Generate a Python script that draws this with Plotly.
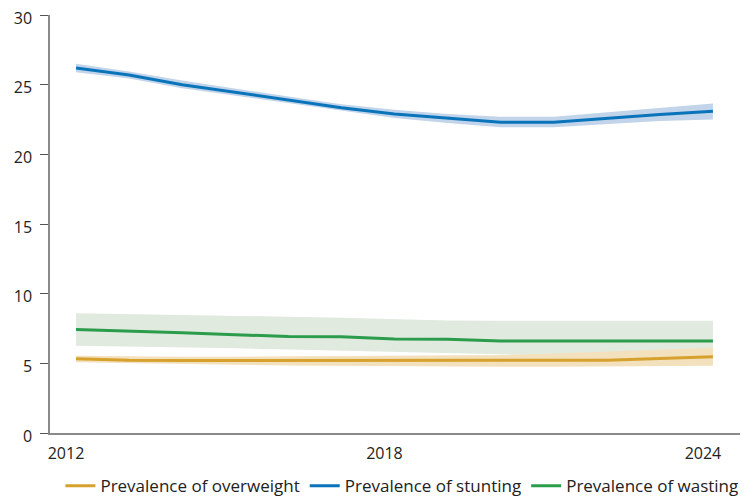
import plotly.graph_objects as go

years = list(range(2012, 2025))

stunting = [26.2, 25.7, 25.0, 24.45, 23.9, 23.35, 22.9, 22.6, 22.3, 22.3, 22.6, 22.85, 23.1]
stunting_lo = [25.9, 25.45, 24.75, 24.2, 23.65, 23.1, 22.6, 22.25, 21.95, 21.95, 22.2, 22.4, 22.5]
stunting_hi = [26.5, 25.95, 25.3, 24.7, 24.15, 23.6, 23.2, 22.9, 22.7, 22.7, 23.0, 23.3, 23.65]

wasting = [7.42, 7.32, 7.2, 7.06, 6.92, 6.9, 6.75, 6.72, 6.6, 6.6, 6.6, 6.6, 6.6]
wasting_lo = [6.27, 6.22, 6.15, 6.08, 6.0, 5.9, 5.8, 5.72, 5.65, 5.6, 5.6, 5.6, 5.6]
wasting_hi = [8.6, 8.55, 8.45, 8.4, 8.35, 8.28, 8.2, 8.08, 8.06, 8.06, 8.06, 8.06, 8.06]

overweight = [5.33, 5.22, 5.2, 5.2, 5.2, 5.2, 5.2, 5.19, 5.19, 5.19, 5.22, 5.35, 5.48]
overweight_lo = [5.07, 5.0, 4.95, 4.9, 4.85, 4.82, 4.78, 4.76, 4.76, 4.76, 4.78, 4.8, 4.83]
overweight_hi = [5.55, 5.5, 5.48, 5.48, 5.5, 5.5, 5.52, 5.55, 5.6, 5.7, 5.85, 6.0, 6.12]

y_ticks = [0, 5, 10, 15, 20, 25, 30]
x_ticks = [2012, 2018, 2024]

series = [
    ("Prevalence of overweight", overweight, overweight_lo, overweight_hi, "#d6a12c", "#f3e0bd"),
    ("Prevalence of stunting", stunting, stunting_lo, stunting_hi, "#0a74bb", "#c2d4ea"),
    ("Prevalence of wasting", wasting, wasting_lo, wasting_hi, "#2b9c4b", "#e1eadf"),
]

fig = go.Figure()

band_order = [2, 0, 1]
for i in band_order:
    name, v, lo, hi, lc, fc = series[i]
    fig.add_trace(go.Scatter(x=years, y=lo, mode="lines", line=dict(width=0),
                             showlegend=False, hoverinfo="skip"))
    fig.add_trace(go.Scatter(x=years, y=hi, mode="lines", line=dict(width=0),
                             fill="tonexty", fillcolor=fc,
                             showlegend=False, hoverinfo="skip"))

for name, v, lo, hi, lc, fc in series:
    fig.add_trace(go.Scatter(x=years, y=v, mode="lines", name=name,
                             line=dict(color=lc, width=3)))

fig.update_layout(
    width=748, height=489,
    margin=dict(l=42, r=16, t=7, b=64, autoexpand=False),
    paper_bgcolor="white", plot_bgcolor="white",
    font=dict(family="Open Sans", size=16, color="#222222"),
    showlegend=True,
    legend=dict(orientation="h", x=0.51, xanchor="center", yref="container",
                y=0.022, yanchor="middle",
                font=dict(size=17), itemwidth=30, traceorder="normal"),
)
fig.update_xaxes(
    range=[2011.51, 2024.51], tickvals=x_ticks, ticktext=[str(t) for t in x_ticks],
    showgrid=False, zeroline=False, showline=True, linecolor="#8a8a8a", linewidth=1.5,
    ticks="", ticklabelshift=-10, ticklabelstandoff=5, tickfont=dict(size=16),
    automargin=False, ticklabeloverflow="allow",
)
fig.update_yaxes(
    range=[0, 30], tickvals=y_ticks, showgrid=False, zeroline=False,
    showline=True, linecolor="#8a8a8a", linewidth=1.5,
    ticks="outside", ticklen=8, tickcolor="#555555", tickwidth=1.2,
    ticklabelstandoff=5, ticklabelshift=3, tickfont=dict(size=16), automargin=False,
    ticklabeloverflow="allow",
)

fig.write_html("out.html")
